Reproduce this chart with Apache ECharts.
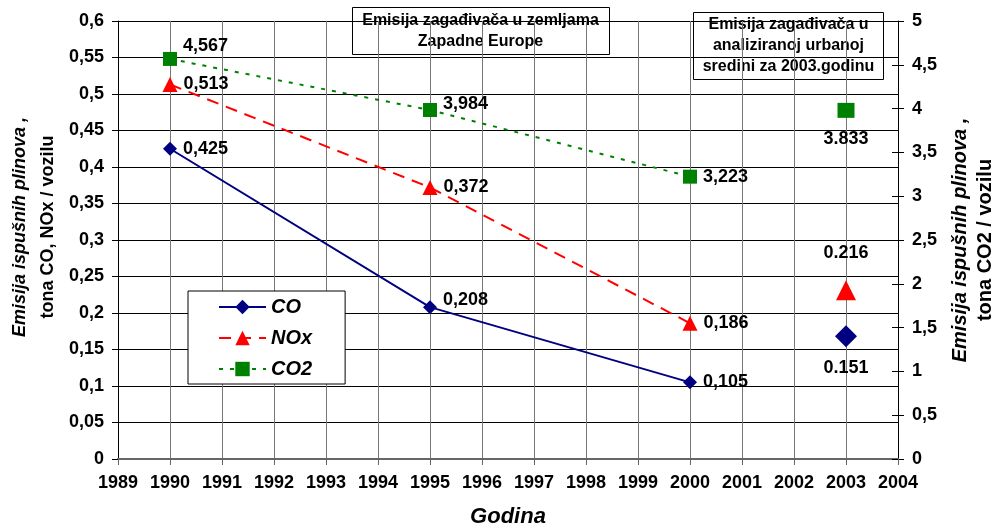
<!DOCTYPE html>
<html>
<head>
<meta charset="utf-8">
<script src="https://cdn.jsdelivr.net/npm/echarts@6/dist/echarts.min.js"></script>
<style>
	html, body { margin: 0; padding: 0; background: #fff; }
	#chart { width: 992px; height: 526px; }
</style>
</head>
<body>
<div id="chart"></div>
<script>
// Zapadna Europa, po godinama
var years = [1990, 1995, 2000];
var coValues = [0.425, 0.208, 0.105];
var noxValues = [0.513, 0.372, 0.186];
var co2Values = [4.567, 3.984, 3.223];
var coLabels = ['0,425', '0,208', '0,105'];
var noxLabels = ['0,513', '0,372', '0,186'];
var co2Labels = ['4,567', '3,984', '3,223'];

// urbana sredina 2003 (tacke kako su nacrtane, oznake kako su napisane)
var urbanYear = 2003;
var urbanCo = 0.168, urbanCoLabel = '0.151';
var urbanNox = 0.231, urbanNoxLabel = '0.216';
var urbanCo2 = 3.98, urbanCo2Label = '3.833';

var seriesNames = ['CO', 'NOx', 'CO2'];
var boxTitles = ['Emisija zagađivača u zemljama\nZapadne Europe', 'Emisija zagađivača u\nanaliziranoj urbanoj\nsredini za 2003.godinu'];

var font = '"Liberation Sans", Arial, sans-serif';
var navy = '#000080', red = '#ff0000', green = '#008000';

// pomak oznaka po tacki (samo izgled)
var coShift = [[0, 0], [0, -7], [0, 0]];
var noxShift = [[0, 0], [0, 0], [0, 0]];
var co2Shift = [[0, -13], [0, -6], [0, 0]];

function points(xs, ys, shift) {
	return xs.map(function(x, i) {
		return { value: [x, ys[i]], label: { offset: shift[i] } };
	});
}

function lbl(labels) {
	return {
		show: true,
		position: 'right',
		distance: 6,
		color: '#000',
		fontFamily: font,
		fontWeight: 'bold',
		fontSize: 18,
		formatter: function(p) { return labels[p.dataIndex]; }
	};
}

function comma(v) {
	return String(parseFloat(v.toFixed(2))).replace('.', ',');
}

function nameRich(size, lh) {
	return {
		a: { fontFamily: font, fontWeight: 'bold', fontStyle: 'italic', fontSize: size, color: '#000', lineHeight: lh },
		b: { fontFamily: font, fontWeight: 'bold', fontSize: size, color: '#000', lineHeight: lh }
	};
}

var chart = echarts.init(document.getElementById('chart'));

var option = {
	animation: false,
	backgroundColor: '#fff',
	textStyle: { fontFamily: font },
	grid: { left: 118, right: 94, top: 21, bottom: 67, containLabel: false, outerBoundsMode: 'none' },
	xAxis: {
		type: 'value',
		min: 1989,
		max: 2004,
		interval: 1,
		name: 'Godina',
		nameLocation: 'middle',
		nameGap: 47,
		nameTextStyle: { fontFamily: font, fontWeight: 'bold', fontStyle: 'italic', fontSize: 22, color: '#000' },
		axisLine: { lineStyle: { color: '#666', width: 2 } },
		axisTick: { show: true, length: 6, lineStyle: { color: '#666' } },
		axisLabel: { color: '#000', fontWeight: 'bold', fontSize: 18, margin: 15, formatter: function(v) { return String(v); } },
		splitLine: { show: true, lineStyle: { color: '#777', width: 1 } }
	},
	yAxis: [
		{
			type: 'value',
			min: 0,
			max: 0.6,
			interval: 0.05,
			name: '{a|Emisija ispušnih plinova ,}\n{b|tona CO, NOx / vozilu}',
			nameLocation: 'middle',
			nameRotate: 90,
			nameGap: 56,
			nameTextStyle: { rich: nameRich(18, 28), padding: [0, 0, 0, 26] },
			axisLine: { show: true, lineStyle: { color: '#000', width: 1 } },
			axisTick: { show: true, length: 6, lineStyle: { color: '#000' } },
			axisLabel: { color: '#000', fontWeight: 'bold', fontSize: 18, margin: 14, formatter: comma },
			splitLine: { show: true, lineStyle: { color: '#000', width: 1 } }
		},
		{
			type: 'value',
			min: 0,
			max: 5,
			interval: 0.5,
			position: 'right',
			name: '{a|Emisija ispušnih plinova ,}\n{b|tona CO2 / vozilu}',
			nameLocation: 'middle',
			nameRotate: 90,
			nameGap: 50,
			nameTextStyle: { rich: nameRich(20, 25) },
			axisLine: { show: true, lineStyle: { color: '#000', width: 1 } },
			axisTick: { show: true, length: 6, lineStyle: { color: '#000' } },
			axisLabel: { color: '#000', fontWeight: 'bold', fontSize: 18, margin: 14, formatter: comma },
			splitLine: { show: false }
		},
		{
			// unutrasnji dio crtica desne osi
			type: 'value',
			min: 0,
			max: 5,
			interval: 0.5,
			position: 'right',
			axisLine: { show: false },
			axisTick: { show: true, inside: true, length: 6, lineStyle: { color: '#000' } },
			axisLabel: { show: false },
			splitLine: { show: false }
		}
	],
	legend: {
		data: seriesNames,
		orient: 'vertical',
		left: 188,
		top: 291,
		padding: [6, 33, 5, 30],
		itemGap: 11,
		itemWidth: 47,
		itemHeight: 18,
		itemTextGap: 7,
		borderColor: '#000',
		borderWidth: 1,
		backgroundColor: '#fff',
		textStyle: { fontFamily: font, fontWeight: 'bold', fontStyle: 'italic', fontSize: 20, color: '#000' }
	},
	graphic: [
		{
			type: 'group',
			left: 352,
			top: 7,
			z: 100,
			children: [
				{ type: 'rect', shape: { x: 0, y: 0, width: 257, height: 47 }, style: { fill: '#fff', stroke: '#000', lineWidth: 1 } },
				{ type: 'text', style: { text: boxTitles[0], x: 128, y: 3, textAlign: 'center', textVerticalAlign: 'top', font: 'bold 16px ' + font, lineHeight: 21, fill: '#000' } }
			]
		},
		{
			type: 'group',
			left: 693,
			top: 12,
			z: 100,
			children: [
				{ type: 'rect', shape: { x: 0, y: 0, width: 190, height: 67 }, style: { fill: '#fff', stroke: '#000', lineWidth: 1 } },
				{ type: 'text', style: { text: boxTitles[1], x: 95, y: 2, textAlign: 'center', textVerticalAlign: 'top', font: 'bold 16px ' + font, lineHeight: 21, fill: '#000' } }
			]
		}
	],
	series: [
		{
			name: 'CO',
			type: 'line',
			yAxisIndex: 0,
			data: points(years, coValues, coShift),
			symbol: 'diamond',
			symbolSize: 14,
			lineStyle: { color: navy, width: 2 },
			itemStyle: { color: navy },
			label: lbl(coLabels)
		},
		{
			name: 'NOx',
			type: 'line',
			yAxisIndex: 0,
			data: points(years, noxValues, noxShift),
			symbol: 'triangle',
			symbolSize: 15,
			lineStyle: { color: red, width: 2, type: [12, 8] },
			itemStyle: { color: red },
			label: lbl(noxLabels)
		},
		{
			name: 'CO2',
			type: 'line',
			yAxisIndex: 1,
			data: points(years, co2Values, co2Shift),
			symbol: 'rect',
			symbolSize: 14,
			lineStyle: { color: green, width: 2, type: [4, 7] },
			itemStyle: { color: green },
			label: lbl(co2Labels)
		},
		{
			name: 'CO 2003',
			type: 'scatter',
			yAxisIndex: 0,
			data: [[urbanYear, urbanCo]],
			symbol: 'diamond',
			symbolSize: 22,
			itemStyle: { color: navy, opacity: 1 },
			label: { show: true, position: 'bottom', distance: 12, color: '#000', fontWeight: 'bold', fontSize: 18, formatter: urbanCoLabel }
		},
		{
			name: 'NOx 2003',
			type: 'scatter',
			yAxisIndex: 0,
			data: [[urbanYear, urbanNox]],
			symbol: 'triangle',
			symbolSize: 20,
			itemStyle: { color: red, opacity: 1 },
			label: { show: true, position: 'top', distance: 18, color: '#000', fontWeight: 'bold', fontSize: 18, formatter: urbanNoxLabel }
		},
		{
			name: 'CO2 2003',
			type: 'scatter',
			yAxisIndex: 1,
			data: [[urbanYear, urbanCo2]],
			symbol: 'rect',
			symbolSize: [17, 15],
			itemStyle: { color: green, opacity: 1 },
			label: { show: true, position: 'bottom', distance: 12, color: '#000', fontWeight: 'bold', fontSize: 18, formatter: urbanCo2Label }
		}
	]
};

chart.setOption(option);
</script>
</body>
</html>
